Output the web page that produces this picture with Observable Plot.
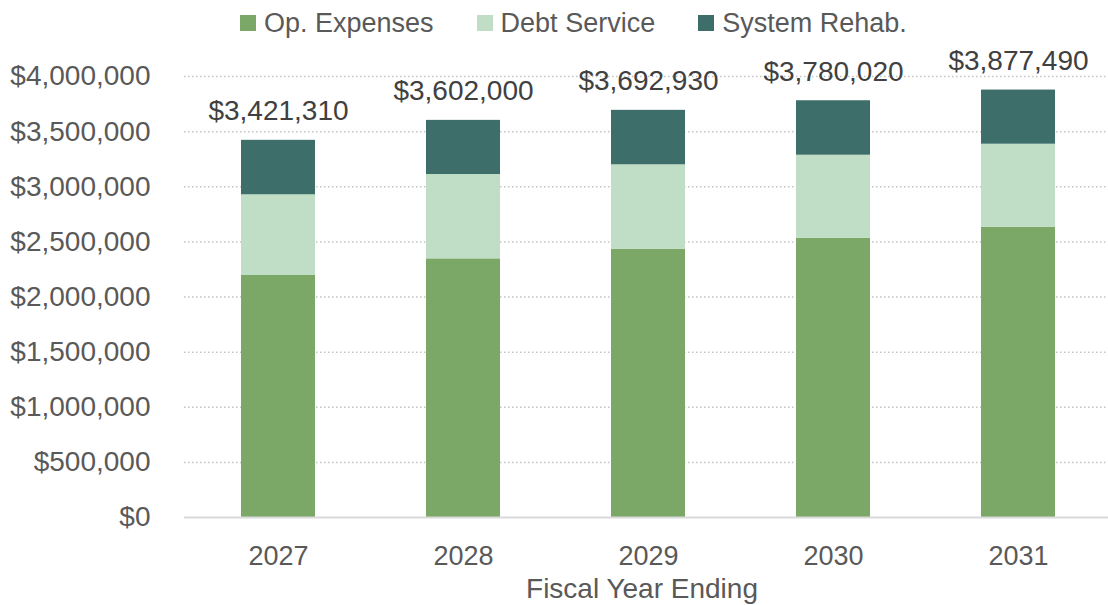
<!DOCTYPE html>
<html>
<head>
<meta charset="utf-8">
<script src="https://cdn.jsdelivr.net/npm/d3@7"></script>
<script src="https://cdn.jsdelivr.net/npm/@observablehq/plot@0.6"></script>
<style>
  html, body { margin: 0; padding: 0; background: #fff; }
  #wrap { position: relative; width: 1108px; height: 605px; overflow: hidden; font-family: "Liberation Sans", Arial, sans-serif; }
  #legend { position: absolute; top: 0; left: 240px; height: 46px; display: flex; align-items: center; font-size: 27px; color: #595959; }
  .item { display: flex; align-items: center; margin-right: 43px; }
  .sw { width: 16px; height: 16px; margin-right: 8px; }
</style>
</head>
<body>
<div id="wrap"><div id="legend"></div></div>
<script>
const years = ["2027", "2028", "2029", "2030", "2031"];
const seriesNames = ["Op. Expenses", "Debt Service", "System Rehab."];
const seriesColors = ["#7BA866", "#C0DEC6", "#3D6E69"];
const opExpenses = [2195000, 2346000, 2434000, 2533000, 2633000];
const debtService = [732000, 765000, 765000, 753000, 753000];
const systemRehab = [494000, 491000, 494000, 494000, 491000];
const totals = [3421310, 3602000, 3692930, 3780020, 3877490];
const yTicks = [0, 500000, 1000000, 1500000, 2000000, 2500000, 3000000, 3500000, 4000000];

const seriesValues = [opExpenses, debtService, systemRehab];
const rows = [];
years.forEach((yr, i) => {
  seriesNames.forEach((s, j) => rows.push({year: yr, series: s, value: seriesValues[j][i]}));
});
const totalRows = years.map((yr, i) => ({year: yr, total: totals[i]}));
const money = d => "$" + d3.format(",")(d);
const textColor = "#595959";

const chart = Plot.plot({
  width: 1108,
  height: 605,
  marginLeft: 184,
  marginRight: -5,
  marginTop: 76,
  marginBottom: 88,
  style: {fontFamily: '"Liberation Sans", Arial, sans-serif', background: "transparent"},
  x: {domain: years, paddingInner: 0.6, paddingOuter: 0.3, axis: null},
  y: {domain: [0, 4000000], axis: null},
  color: {domain: seriesNames, range: seriesColors},
  marks: [
    Plot.gridY(yTicks.filter(d => d > 0), {stroke: "#c4c4c4", strokeOpacity: 1, strokeWidth: 1.5, strokeDasharray: "1.5,2.5"}),
    Plot.barY(rows, {x: "year", y: "value", fill: "series", order: seriesNames}),
    Plot.ruleY([0], {stroke: "#d9d9d9", strokeWidth: 2}),
    Plot.axisY({ticks: yTicks, tickFormat: money, tickSize: 0, tickPadding: 34, fontSize: 28, fill: textColor, label: null}),
    Plot.axisX({tickSize: 0, tickPadding: 28, fontSize: 27, fill: textColor, label: null}),
    Plot.text(totalRows, {x: "year", y: "total", text: d => money(d.total), dy: -20, lineAnchor: "bottom", fontSize: 28, fill: "#404040"}),
    Plot.text(["Fiscal Year Ending"], {frameAnchor: "bottom", dy: 80, dx: -7, lineAnchor: "bottom", fontSize: 28, fill: textColor})
  ]
});
document.getElementById("wrap").appendChild(chart);

const legend = document.getElementById("legend");
seriesNames.forEach((s, j) => {
  const it = document.createElement("div");
  it.className = "item";
  const sw = document.createElement("div");
  sw.className = "sw";
  sw.style.background = seriesColors[j];
  const t = document.createElement("span");
  t.textContent = s;
  it.appendChild(sw); it.appendChild(t);
  legend.appendChild(it);
});
</script>
</body>
</html>
